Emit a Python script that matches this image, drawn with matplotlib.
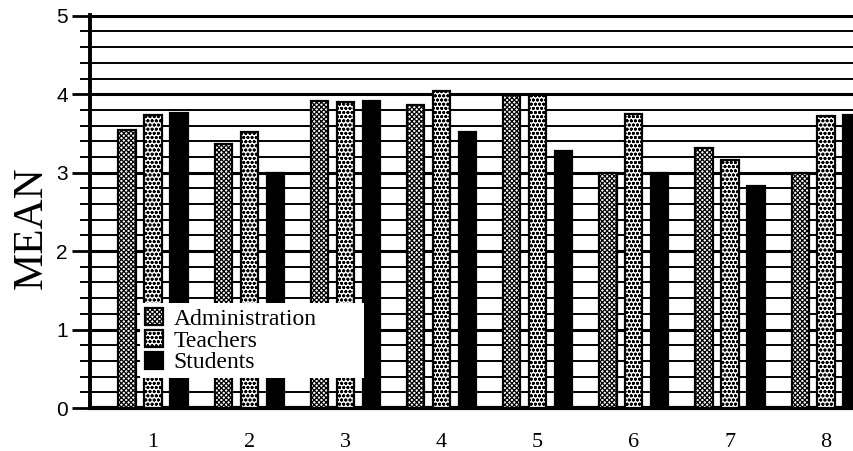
# Grouped bar chart: mean scores per item for three respondent groups
import numpy as np
import matplotlib
matplotlib.use('Agg')
import matplotlib.pyplot as plt
from matplotlib.ticker import MultipleLocator

# --- Data --------------------------------------------------------------------------------
items = ['1', '2', '3', '4', '5', '6', '7', '8']
administration = [3.54, 3.37, 3.91, 3.86, 3.99, 3.00, 3.32, 3.00]
teachers = [3.74, 3.52, 3.90, 4.04, 3.99, 3.75, 3.16, 3.72]
students = [3.76, 3.00, 3.91, 3.52, 3.27, 3.00, 2.83, 3.73]
series_names = ['Administration', 'Teachers', 'Students']
y_ticks = [0, 1, 2, 3, 4, 5]

# --- Figure ------------------------------------------------------------------------------
plt.rcParams['hatch.linewidth'] = 0.9
fig = plt.figure(figsize=(8.54, 4.51), dpi=100)
ax = fig.add_axes([90 / 854, 43 / 451, 764 / 854, 393 / 451])

x = np.arange(1, len(items) + 1)
w = 0.18
bar_kw = dict(width=w, edgecolor='black', linewidth=1.6, zorder=3)
ax.bar(x - 0.27, administration, facecolor='white', hatch='xxxxxxx', label=series_names[0], **bar_kw)
ax.bar(x, teachers, facecolor='white', hatch='oooo', label=series_names[1], **bar_kw)
ax.bar(x + 0.27, students, facecolor='black', label=series_names[2], **bar_kw)

ax.set_xlim(0.344, 8.29)
ax.set_ylim(0, 5.01)
ax.set_yticks(y_ticks)
ax.yaxis.set_minor_locator(MultipleLocator(0.2))
ax.set_xticks(x)
ax.set_xticklabels(items, family='Liberation Serif', fontsize=16)
ax.set_yticklabels([str(v) for v in y_ticks], family='Liberation Sans', fontsize=15)

# grid lines across the plot, thicker at the whole numbers
ax.set_axisbelow(True)
ax.grid(axis='y', which='major', color='black', linewidth=2.2)
ax.grid(axis='y', which='minor', color='black', linewidth=1.4)
ax.grid(axis='x', visible=False)

ax.tick_params(axis='y', which='major', length=13, width=2.0, pad=3)
ax.tick_params(axis='y', which='minor', length=7, width=1.4)
ax.tick_params(axis='x', length=0, pad=18)

for side in ['top', 'right']:
    ax.spines[side].set_visible(False)
ax.spines['left'].set_linewidth(2.8)
ax.spines['bottom'].set_linewidth(3.0)

ax.set_ylabel('MEAN', family='Liberation Serif', fontsize=30)
ax.yaxis.set_label_coords(-0.051, 0.458)

leg = ax.legend(loc='lower left', bbox_to_anchor=(0.066, 0.076, 0.293, 0.19), mode='expand',
                prop={'family': 'Liberation Serif', 'size': 17},
                frameon=True, fancybox=False, framealpha=1, edgecolor='white',
                handlelength=0.75, handleheight=0.75, handletextpad=0.45,
                labelspacing=0.0, borderpad=0.2, borderaxespad=0)
leg.get_frame().set_linewidth(0)

fig.savefig('out.png', dpi=100)
